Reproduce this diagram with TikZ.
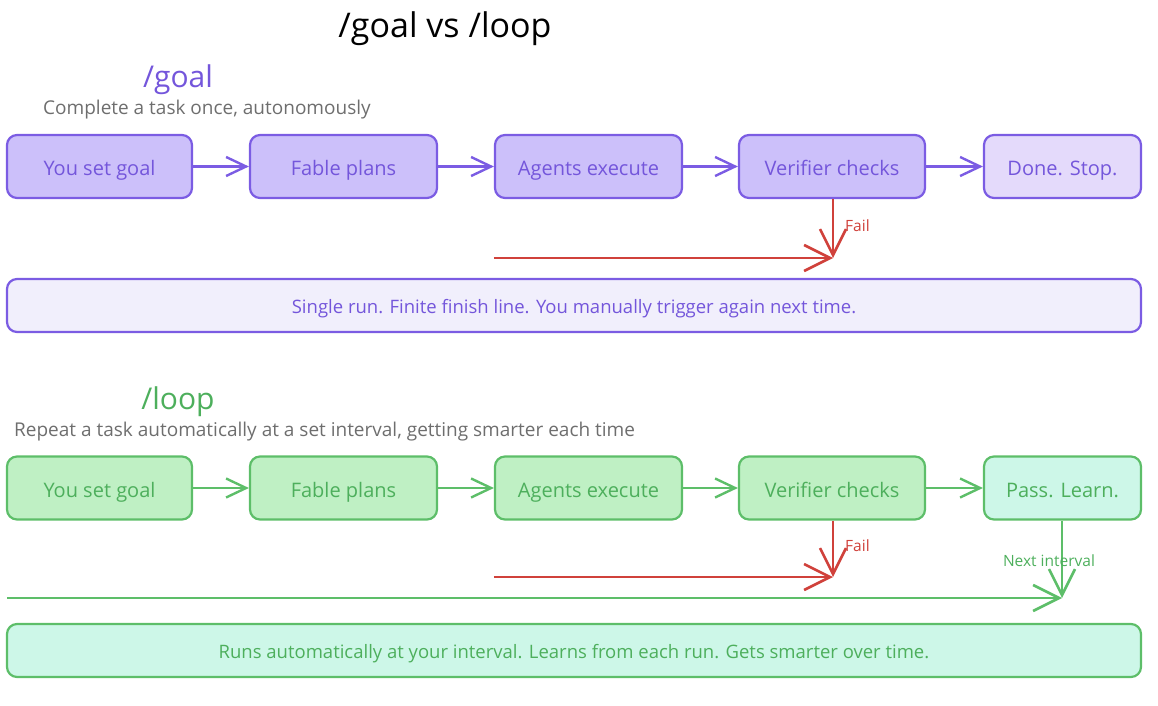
\documentclass[tikz,border=0pt]{standalone}
\usepackage{fontspec}
\setmainfont{Open Sans}
\usetikzlibrary{arrows.meta,positioning}
\definecolor{pbord}{HTML}{7B5CE3}
\definecolor{pfill}{HTML}{CCC0FA}
\definecolor{pfilllight}{HTML}{E4DAFB}
\definecolor{psum}{HTML}{F1EFFC}
\definecolor{ptext}{HTML}{7456DB}
\definecolor{gbord}{HTML}{5DBE69}
\definecolor{gfill}{HTML}{BFF0C4}
\definecolor{gfilllight}{HTML}{CDF7E8}
\definecolor{gtext}{HTML}{4DAF5C}
\definecolor{redc}{HTML}{D0413B}
\definecolor{graytext}{HTML}{6E6E6E}
\tikzset{
  box/.style={draw, rounded corners=10pt, line width=2.2pt, minimum height=63pt,
    font=\fontsize{20}{24}\selectfont, inner sep=0pt, text height=20pt, text depth=2pt},
  pbox/.style={box, draw=pbord, fill=pfill, text=ptext},
  gbox/.style={box, draw=gbord, fill=gfill, text=gtext},
  sumbox/.style={draw, rounded corners=10pt, line width=2.2pt, minimum height=53pt,
    minimum width=1134pt, font=\fontsize{18.5}{22}\selectfont, inner sep=0pt,
    text height=18pt, text depth=2pt},
  conn/.style={line width=2.4pt, -{Straight Barb[length=20pt,width=19pt,line width=2.4pt]}},
  bigconn/.style={line width=2.6pt, -{Straight Barb[length=26pt,width=26pt,line width=2.6pt]}},
  pconn/.style={conn, draw=pbord},
  gconn/.style={conn, draw=gbord},
  gbigconn/.style={bigconn, draw=gbord},
  rconn/.style={bigconn, draw=redc},
  lbl/.style={font=\fontsize{15.5}{18}\selectfont, inner sep=0pt}
}
\begin{document}
\begin{tikzpicture}[x=1pt,y=-1pt]
\useasboundingbox (0,0) rectangle (1158,706);
% title
\node[font=\fontsize{34}{38}\selectfont, text=black] (title) at (445,29) {/goal vs /loop};
% goal section
\node[font=\fontsize{30}{34}\selectfont, text=ptext] (goalh) at (178,80) {/goal};
\node[font=\fontsize{19}{22}\selectfont, text=graytext, anchor=west, inner sep=0pt] (goalsub) at (43,110) {Complete a task once, autonomously};
\node[pbox, minimum width=185pt] (g1) at (99.5,166.5) {You set goal};
\node[pbox, minimum width=187pt] (g2) at (343.5,166.5) {Fable plans};
\node[pbox, minimum width=187pt] (g3) at (588.5,166.5) {Agents execute};
\node[pbox, minimum width=186pt] (g4) at (832,166.5) {Verifier checks};
\node[pbox, fill=pfilllight, minimum width=157pt] (g5) at (1062.5,166.5) {Done. Stop.};
\draw[pconn] (g1) -- (g2);
\draw[pconn] (g2) -- (g3);
\draw[pconn] (g3) -- (g4);
\draw[pconn] (g4) -- (g5);
\coordinate (gfailend) at (833,258);
\coordinate (gfailstart) at (g3.west |- gfailend);
\draw[rconn] (g4.south -| gfailend) -- (gfailend);
\node[lbl, text=redc, anchor=west] (gfail) at (845,226) {Fail};
\draw[rconn] (gfailstart) -- (gfailend);
\node[sumbox, draw=pbord, fill=psum, text=ptext] (gsum) at (574,305.5) {Single run. Finite finish line. You manually trigger again next time.};
% loop section
\node[font=\fontsize{30}{34}\selectfont, text=gtext] (looph) at (178,402) {/loop};
\node[font=\fontsize{19}{22}\selectfont, text=graytext, anchor=west, inner sep=0pt] (loopsub) at (14,432) {Repeat a task automatically at a set interval, getting smarter each time};
\node[gbox, minimum width=185pt] (l1) at (99.5,488) {You set goal};
\node[gbox, minimum width=187pt] (l2) at (343.5,488) {Fable plans};
\node[gbox, minimum width=187pt] (l3) at (588.5,488) {Agents execute};
\node[gbox, minimum width=186pt] (l4) at (832,488) {Verifier checks};
\node[gbox, fill=gfilllight, minimum width=157pt] (l5) at (1062.5,488) {Pass. Learn.};
\draw[gconn] (l1) -- (l2);
\draw[gconn] (l2) -- (l3);
\draw[gconn] (l3) -- (l4);
\draw[gconn] (l4) -- (l5);
\coordinate (lfailend) at (833,577);
\coordinate (lfailstart) at (l3.west |- lfailend);
\draw[rconn] (l4.south -| lfailend) -- (lfailend);
\node[lbl, text=redc, anchor=west] (lfail) at (845,546) {Fail};
\draw[rconn] (lfailstart) -- (lfailend);
\coordinate (nextend) at (1062,598);
\coordinate (nextstart) at (7,598);
\draw[gbigconn] (l5.south -| nextend) -- (nextend);
\draw[gbigconn] (nextstart) -- (nextend);
\node[lbl, text=gtext] (nextlbl) at (1049,561) {Next interval};
\node[sumbox, draw=gbord, fill=gfilllight, text=gtext] (lsum) at (574,650.5) {Runs automatically at your interval. Learns from each run. Gets smarter over time.};
\end{tikzpicture}
\end{document}
